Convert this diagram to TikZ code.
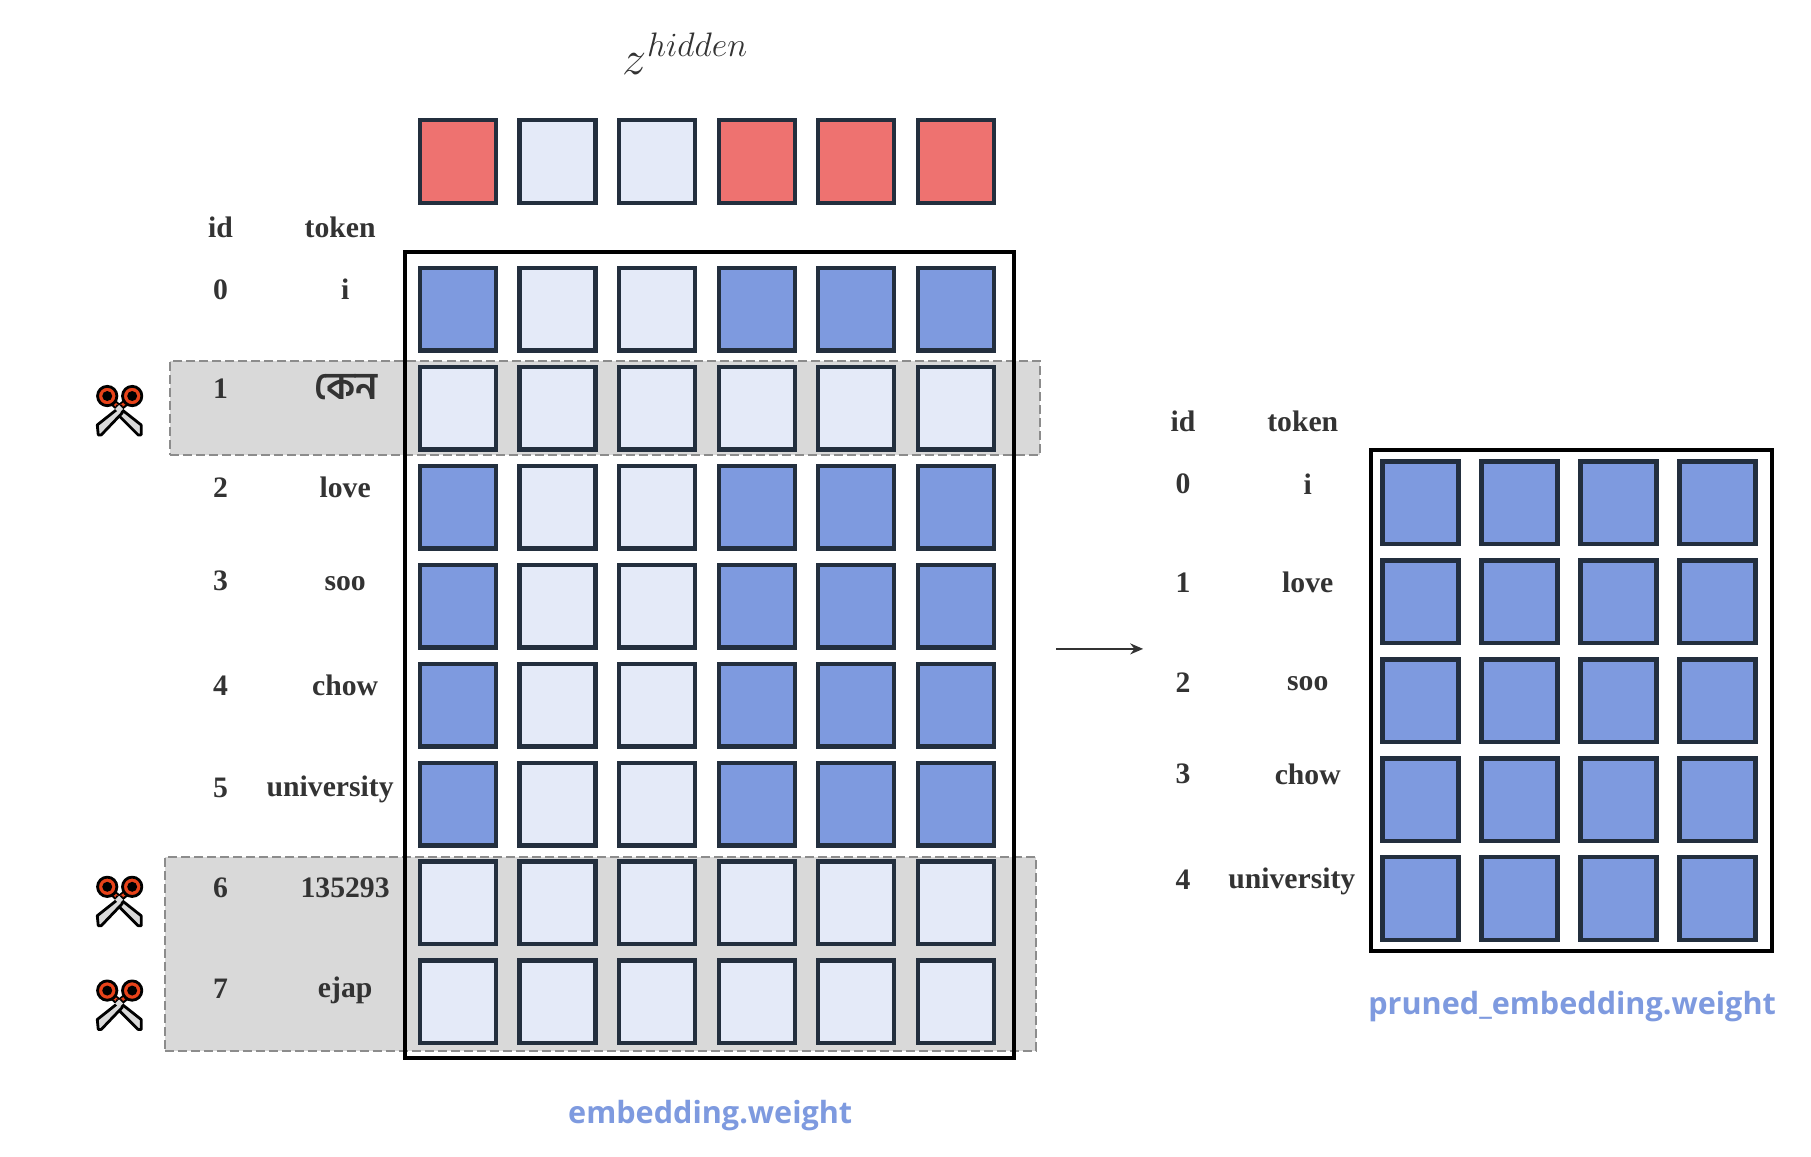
\documentclass[tikz,border=0pt]{standalone}
\usepackage{fix-cm}
\usepackage{fontspec}
\setmainfont{Liberation Serif}
\newfontfamily\bengalifont[Script=Bengali]{Hind Siliguri}
\newfontfamily\titlefont{Open Sans}
\usepackage{tikz}
\usetikzlibrary{arrows.meta,positioning}
\definecolor{cellblue}{HTML}{7E9ADF}
\definecolor{celllight}{HTML}{E4EAF8}
\definecolor{cellred}{HTML}{EE7270}
\definecolor{celledge}{HTML}{232F3E}
\definecolor{textgray}{HTML}{333333}
\definecolor{cutgray}{HTML}{D9D9D9}
\definecolor{cutedge}{HTML}{8C8C8C}
\definecolor{cutorange}{HTML}{E8431A}
\tikzset{
    %Define standard arrow tip
    >={Stealth[length=13pt,width=11pt]},
    %Define style for the squares
    cell/.style={
           rectangle,
           draw=celledge,
           line width=4.4pt,
           inner sep=0pt,
           minimum width=76pt,
           minimum height=82.6pt},
    cellon/.style={cell, fill=cellblue},
    celloff/.style={cell, fill=celllight},
    cellhot/.style={cell, fill=cellred},
    % Define text styles
    lab/.style={
           text=textgray,
           inner sep=0pt,
           font=\fontsize{29.7}{34}\selectfont\bfseries},
    title/.style={
           text=cellblue,
           inner sep=0pt,
           font=\fontsize{30.6}{36}\selectfont\titlefont\bfseries},
    % Define frame and cut band
    frame/.style={draw=black, line width=4pt},
    cutband/.style={draw=cutedge, fill=cutgray, line width=2pt, dash pattern=on 9pt off 4pt},
    % Define arrow style
    pil/.style={
           ->,
           line width=1.6pt,
           draw=textgray}
}
% scissors, drawn around their pivot
\newcommand{\scissors}[2]{
\begin{scope}[shift={(#1,#2)}, line width=2.8pt, draw=black, line join=round]
\draw[line width=7pt] (-10,-9) -- (0,0) -- (11,-9);
\draw[cutorange, line width=3pt] (-9,-8) -- (-2,-2);
\draw[cutorange, line width=3pt] (10,-8) -- (2,-2);
\draw[fill=cutgray] (-2,-2) -- (22,17) -- (22,27) -- (19,27) -- (-3,5) -- cycle;
\draw[fill=cutgray] (2,-2) -- (-22,17) -- (-21,27) -- (-18,27) -- (3,5) -- cycle;
\fill[cutgray] (-4,1) -- (0,-3) -- (4,1) -- (0,5) -- cycle;
\draw[fill=cutorange] (-12,-12) circle (9.7);
\draw[fill=cutorange] (13,-12) circle (9.7);
\fill (-12,-12) circle (5);
\fill (13,-12) circle (5);
\end{scope}
}

\begin{document}
\begin{tikzpicture}[x=0.9975pt, y=-0.9975pt]
\useasboundingbox (0,0) rectangle (1815.5,1158.9);
%Cut bands and frames
\node[cutband, rectangle, inner sep=0pt, minimum width=869pt, minimum height=94pt] (cut1) at (606.5,409) {};
\node[cutband, rectangle, inner sep=0pt, minimum width=871pt, minimum height=194pt] (cut2) at (601.5,956.5) {};
\node[frame, rectangle, inner sep=0pt, minimum width=609pt, minimum height=806pt] (frameleft) at (711.5,657) {};
\node[frame, rectangle, inner sep=0pt, minimum width=401pt, minimum height=501pt] (frameright) at (1575,702) {};
%Latent row
\node[text=textgray, inner sep=0pt, font=\fontsize{48.5}{58}\selectfont] (zhidden) at (687,54) {$z^{hidden}$};
\foreach \c/\tone in {0/cellhot,1/celloff,2/celloff,3/cellhot,4/cellhot,5/cellhot}
  \node[\tone] (top\c) at (459.2+99.8*\c,162) {};
%Left grid
\foreach \r in {0,2,3,4,5}
  \foreach \c/\tone in {0/cellon,1/celloff,2/celloff,3/cellon,4/cellon,5/cellon}
    \node[\tone] (left\r\c) at (459.2+99.8*\c,310+99.2*\r) {};
\foreach \r in {1,6,7}
  \foreach \c in {0,...,5}
    \node[celloff] (left\r\c) at (459.2+99.8*\c,310+99.2*\r) {};
%Right grid
\foreach \r in {0,...,4}
  \foreach \c in {0,...,3}
    \node[cellon] (right\r\c) at (1424+99.2*\c,504+99.2*\r) {};
%Left table
\node[lab] (idl) at (221,228) {id};
\node[lab] (tokl) at (341,228) {token};
\foreach \n/\y in {0/290,1/390,2/489,3/582,4/687,5/790,6/890,7/991}
  \node[lab] (idl\n) at (221,\y) {\n};
\node[lab] (tokl0) at (346,290) {i};
\node[lab, font=\fontsize{38}{44}\selectfont\bengalifont\bfseries] (tokl1) at (347,388) {কেন};
\node[lab] (tokl2) at (346,489) {love};
\node[lab] (tokl3) at (346,585) {soo};
\node[lab] (tokl4) at (346,687) {chow};
\node[lab] (tokl5) at (331,791) {university};
\node[lab] (tokl6) at (346,890) {135293};
\node[lab] (tokl7) at (346,993) {ejap};
%Right table
\node[lab] (idr) at (1186,422) {id};
\node[lab] (tokr) at (1306,422) {token};
\foreach \n/\y in {0/485,1/584,2/684,3/776,4/882}
  \node[lab] (idr\n) at (1186,\y) {\n};
\node[lab] (tokr0) at (1311,485) {i};
\node[lab] (tokr1) at (1311,584) {love};
\node[lab] (tokr2) at (1311,685) {soo};
\node[lab] (tokr3) at (1311,776) {chow};
\node[lab] (tokr4) at (1295,884) {university};
%Titles
\node[title] (embtitle) at (712,1118) {embedding.weight};
\node[title] (prunedtitle) at (1576,1009) {pruned\_embedding.weight};
%Arrow
\coordinate (arrowin) at (1059,650.5);
\coordinate (arrowout) at (1146,650.5);
\draw[pil] (arrowin) -- (arrowout);
%Scissors
\scissors{119.5}{409}
\scissors{119.5}{901}
\scissors{119.5}{1005}
\end{tikzpicture}
\end{document}
